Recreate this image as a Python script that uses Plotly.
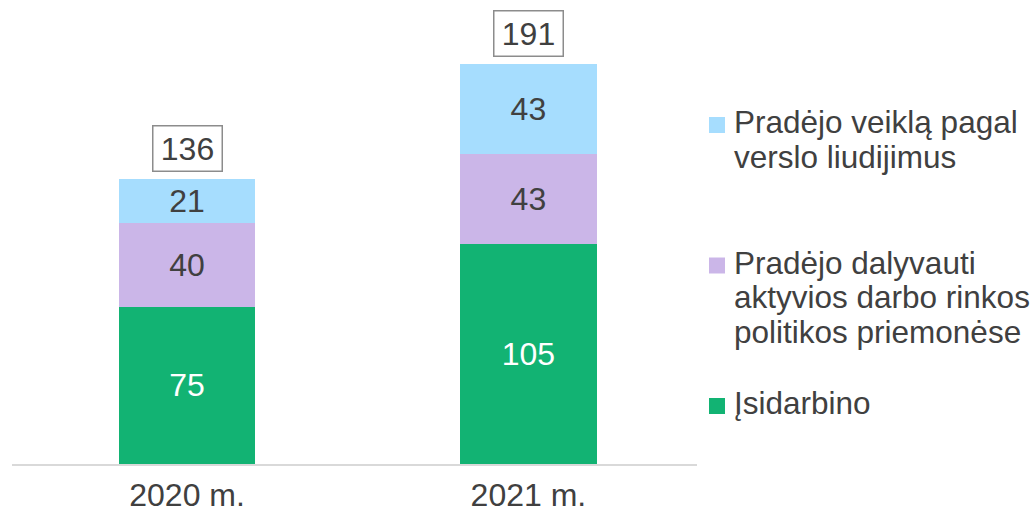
import plotly.graph_objects as go

categories = ["2020 m.", "2021 m."]
isidarbino = [75, 105]
priemones = [40, 43]
verslo = [21, 43]
totals = [136, 191]

series_names = ["Įsidarbino",
                "Pradėjo dalyvauti aktyvios darbo rinkos politikos priemonėse",
                "Pradėjo veiklą pagal verslo liudijimus"]
legend_lines = [
    ["Įsidarbino"],
    ["Pradėjo dalyvauti", "aktyvios darbo rinkos", "politikos priemonėse"],
    ["Pradėjo veiklą pagal", "verslo liudijimus"],
]
series_values = [isidarbino, priemones, verslo]
colors = ["#12B373", "#CBB6E8", "#A6DDFE"]
text_colors = ["#FFFFFF", "#404040", "#404040"]

FONT = "Liberation Sans, Arial, sans-serif"
FS = 32
TXT = "#404040"

W, H = 1035, 514
L, R, T, B = 12, 338, 10, 50
PW, PH = W - L - R, H - T - B


def px_x(px):
    return (px - L) / PW


def px_y(py):
    return (H - B - py) / PH


fig = go.Figure()
for i, (name, vals) in enumerate(zip(series_names, series_values)):
    fig.add_trace(go.Bar(
        x=categories, y=vals, name=name,
        marker=dict(color=colors[i], line=dict(width=0)),
        text=[str(v) for v in vals], textposition="inside",
        insidetextanchor="middle", textangle=0,
        textfont=dict(size=FS, color=text_colors[i], family=FONT),
        constraintext="none", showlegend=False,
        width=0.4,
    ))

for c, t in zip(categories, totals):
    fig.add_annotation(
        x=c, y=t, text=str(t), showarrow=False, yanchor="bottom", yshift=7,
        font=dict(size=FS, color=TXT, family=FONT),
        width=62, height=38, borderpad=3,
        bordercolor="#8C8C8C", borderwidth=1.5, bgcolor="white",
    )

# legend (top to bottom = top of stack first)
legend_top, pitch, line_gap = 125, 140.5, 34.5
for k, idx in enumerate(reversed(range(len(series_names)))):
    cy = legend_top + k * pitch
    fig.add_shape(type="rect", xref="paper", yref="paper",
                  x0=px_x(709), x1=px_x(725), y0=px_y(cy - 8), y1=px_y(cy + 8),
                  fillcolor=colors[idx], line=dict(width=0))
    for j, line in enumerate(legend_lines[idx]):
        fig.add_annotation(
            xref="paper", yref="paper", x=px_x(732), y=px_y(cy - 3 + j * line_gap),
            xanchor="left", yanchor="middle", text=line, showarrow=False,
            font=dict(size=31.5, color=TXT, family=FONT),
        )

fig.update_layout(
    barmode="stack",
    width=W, height=H,
    margin=dict(l=L, r=R, t=T, b=B),
    plot_bgcolor="white", paper_bgcolor="white",
    font=dict(family=FONT, size=FS, color=TXT),
    showlegend=False,
    xaxis=dict(range=[-0.513, 1.494], showline=True, linecolor="#D9D9D9", linewidth=2,
               ticks="", tickfont=dict(size=FS, color=TXT), showgrid=False,
               ticklabelstandoff=2,
               automargin=False, fixedrange=True),
    yaxis=dict(range=[0, 216.8], visible=False, showgrid=False, automargin=False,
               fixedrange=True),
)

fig.write_html("out.html", config={"displayModeBar": False},
               post_script="document.body.style.margin='0';")
